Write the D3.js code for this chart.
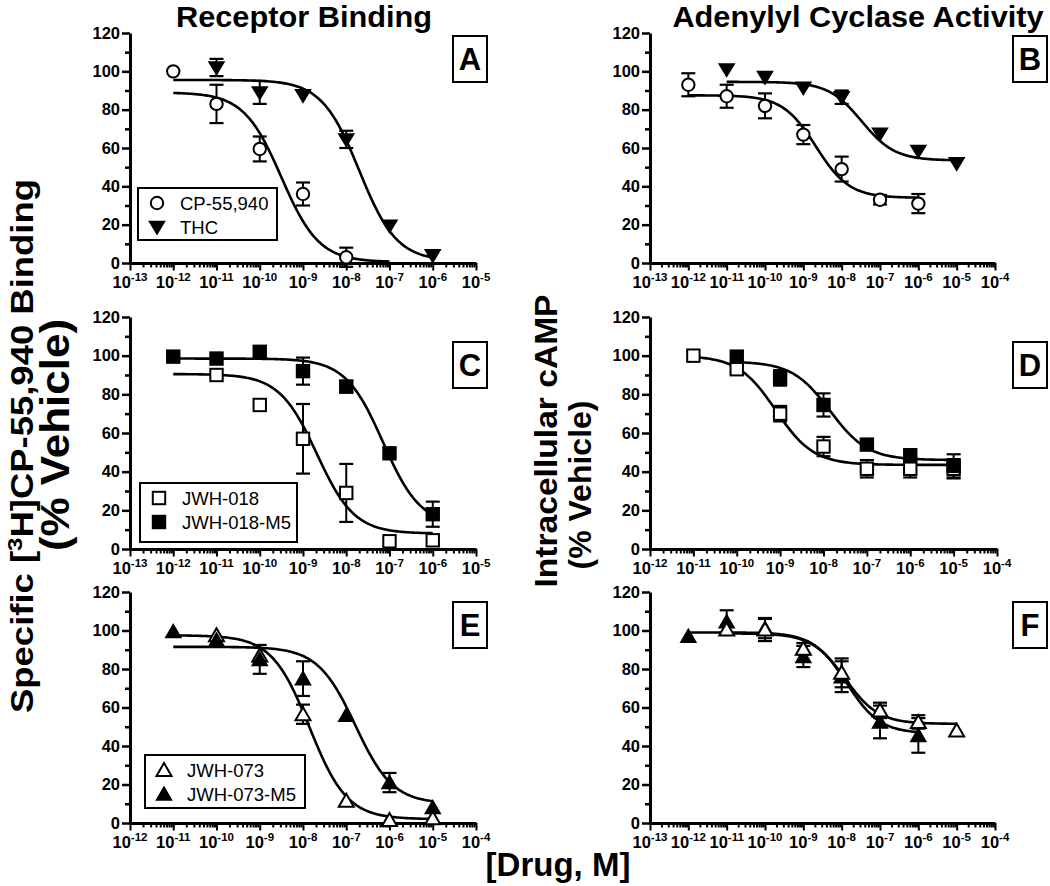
<!DOCTYPE html>
<html><head><meta charset="utf-8">
<script src="https://cdn.jsdelivr.net/npm/d3@7"></script>
<style>
body{margin:0;background:#fff}
svg{display:block}
text{font-family:"Liberation Sans",Arial,Helvetica,sans-serif;fill:#000}
</style>
</head><body>
<svg id="c" width="1050" height="886"></svg>
<script>
// ---------------- DATA ----------------
const titles = ["Receptor Binding", "Adenylyl Cyclase Activity"];
const yLabelLeft = ["Specific [", "3", "H]CP-55,940 Binding"];
const yLabelRight = "Intracellular cAMP";
const yLabelSub = "(% Vehicle)";
const xLabel = "[Drug, M]";
const panelLetters = ["A", "B", "C", "D", "E", "F"];
const yTicks = [0, 20, 40, 60, 80, 100, 120];
// x-axis exponent ranges (log10 M)
const xRangeA = [-13, -5], xRangeB = [-13, -4], xRangeC = [-13, -5];
const xRangeD = [-12, -4], xRangeE = [-12, -4], xRangeF = [-13, -4];

// Panel A
const A_cp_logx = [-12, -11, -10, -9, -8];
const A_cp_y    = [100, 83, 59.5, 36, 3];
const A_cp_err  = [0, 10, 6.5, 6, 5];
const A_thc_logx = [-11, -10, -9, -8, -7, -6];
const A_thc_y    = [102, 89, 87.5, 64.5, 19.5, 4];
const A_thc_err  = [4.5, 6, 0, 4.5, 0, 0];
// fit params: top, bottom, logIC50, hill, curve start, curve end
const A_cp_fit  = [89, 0.5, -9.5, 1, -12, -7];
const A_thc_fit = [95.5, 1, -7.7, 1, -12, -6];

// Panel B
const B_cp_logx = [-12, -11, -10, -9, -8, -7, -6];
const B_cp_y    = [93, 87, 82, 67, 49, 33, 31];
const B_cp_err  = [6, 6, 6.5, 5, 6.5, 2.5, 5];
const B_thc_logx = [-11, -10, -9, -8, -7, -6, -5];
const B_thc_y    = [101, 97, 91.5, 86.5, 67.5, 58.5, 52];
const B_thc_err  = [0, 0, 0, 3.5, 0, 0, 0];
const B_cp_fit  = [87.5, 34, -8.67, 1, -12, -6];
const B_thc_fit = [94.5, 53.5, -7.48, 1, -11, -5];

// Panel C
const C_018_logx = [-11, -10, -9, -8, -7, -6];
const C_018_y    = [90, 74.5, 57, 29, 4, 4.5];
const C_018_err  = [0, 0, 18, 15, 0, 0];
const C_m5_logx = [-12, -11, -10, -9, -8, -7, -6];
const C_m5_y    = [99.5, 98.5, 102, 92, 84, 49.5, 18];
const C_m5_err  = [0, 0, 0, 7, 3, 0, 6.5];
const C_018_fit = [90.5, 8, -8.68, 1, -12, -6];
const C_m5_fit  = [98.5, 12, -7.15, 1, -12, -6];

// Panel D
const D_018_logx = [-11, -10, -9, -8, -7, -6, -5];
const D_018_y    = [100, 93, 70, 53, 41.5, 41.5, 41.5];
const D_018_err  = [0, 2, 4, 5, 4.5, 4.5, 5];
const D_m5_logx = [-10, -9, -8, -7, -6, -5];
const D_m5_y    = [99.5, 88.5, 74.5, 54, 48.5, 43];
const D_m5_err  = [0, 4, 6, 0, 0, 6];
const D_018_fit = [100, 43.5, -9.1, 1, -11, -5];
const D_m5_fit  = [97, 46, -7.85, 1, -10, -5];

// Panel E
const E_073_logx = [-10, -9, -8, -7, -6, -5];
const E_073_y    = [97.5, 87, 56.5, 11.5, 1.5, 2.5];
const E_073_err  = [0, 0, 5, 0, 0, 0];
const E_m5_logx = [-11, -10, -9, -8, -7, -6, -5];
const E_m5_y    = [99.5, 95, 85, 75, 56, 21, 8];
const E_m5_err  = [0, 0, 7.5, 9, 0, 5, 0];
const E_073_fit = [97.5, 2, -7.85, 1, -11, -5];
const E_m5_fit  = [91.5, 10, -6.79, 1, -11, -5];

// Panel F
const F_m5_logx = [-12, -11, -10, -9, -8, -7, -6];
const F_m5_y    = [97, 104.5, 101, 86.5, 76, 52.5, 45.5];
const F_m5_err  = [0, 6, 5, 5.5, 8, 8.5, 9];
const F_073_logx = [-11, -10, -9, -8, -7, -6, -5];
const F_073_y    = [100.5, 100.5, 90.5, 78, 58.5, 52.5, 48];
const F_073_err  = [0, 6, 3, 7.5, 4, 3.5, 0];
const F_m5_fit  = [99, 46.5, -7.87, 1, -12, -6];
const F_073_fit = [98.5, 51.5, -7.91, 1, -11, -5];

const legendA = ["CP-55,940", "THC"];
const legendC = ["JWH-018", "JWH-018-M5"];
const legendE = ["JWH-073", "JWH-073-M5"];

// ---------------- LAYOUT ----------------
const svg = d3.select("#c");
const FONT = "'Liberation Sans',Arial,Helvetica,sans-serif";

function ser(logx, y, err, fit, mk) {
  return {pts: logx.map((lx, i) => ({lx, y: y[i], e: err[i]})), fit, mk};
}

const panels = [
  {L: panelLetters[0], range: xRangeA, x0: 130, x1: 476, top: 33, bot: 263, box: [453, 36],
   series: [ser(A_cp_logx, A_cp_y, A_cp_err, A_cp_fit, "circleOpen"), ser(A_thc_logx, A_thc_y, A_thc_err, A_thc_fit, "triDownFilled")],
   legend: {x: 138, y: 188, w: 139, h: 52, items: legendA, mk: ["circleOpen", "triDownFilled"]}},
  {L: panelLetters[1], range: xRangeB, x0: 650, x1: 995, top: 33, bot: 263, box: [1013, 36],
   series: [ser(B_cp_logx, B_cp_y, B_cp_err, B_cp_fit, "circleOpen"), ser(B_thc_logx, B_thc_y, B_thc_err, B_thc_fit, "triDownFilled")]},
  {L: panelLetters[2], range: xRangeC, x0: 130, x1: 476, top: 317, bot: 549, box: [453, 342],
   series: [ser(C_018_logx, C_018_y, C_018_err, C_018_fit, "squareOpen"), ser(C_m5_logx, C_m5_y, C_m5_err, C_m5_fit, "squareFilled")],
   legend: {x: 140, y: 483, w: 157, h: 59, items: legendC, mk: ["squareOpen", "squareFilled"]}},
  {L: panelLetters[3], range: xRangeD, x0: 650, x1: 997, top: 317, bot: 549, box: [1013, 342],
   series: [ser(D_018_logx, D_018_y, D_018_err, D_018_fit, "squareOpen"), ser(D_m5_logx, D_m5_y, D_m5_err, D_m5_fit, "squareFilled")]},
  {L: panelLetters[4], range: xRangeE, x0: 130, x1: 476, top: 592, bot: 823, box: [453, 602],
   series: [ser(E_073_logx, E_073_y, E_073_err, E_073_fit, "triUpOpen"), ser(E_m5_logx, E_m5_y, E_m5_err, E_m5_fit, "triUpFilled")],
   legend: {x: 145, y: 755, w: 160, h: 53, items: legendE, mk: ["triUpOpen", "triUpFilled"]}},
  {L: panelLetters[5], range: xRangeF, x0: 650, x1: 995, top: 592, bot: 823, box: [1013, 602],
   series: [ser(F_m5_logx, F_m5_y, F_m5_err, F_m5_fit, "triUpFilled"), ser(F_073_logx, F_073_y, F_073_err, F_073_fit, "triUpOpen")]}
];

function drawMarker(g, type, cx, cy) {
  const open = type.endsWith("Open");
  const fill = open ? "#fff" : "#000";
  if (type.startsWith("circle")) {
    g.append("circle").attr("cx", cx).attr("cy", cy).attr("r", 6.2)
      .attr("fill", fill).attr("stroke", "#000").attr("stroke-width", 2);
  } else if (type.startsWith("square")) {
    g.append("rect").attr("x", cx - 6.2).attr("y", cy - 6.2).attr("width", 12.4).attr("height", 12.4)
      .attr("fill", fill).attr("stroke", "#000").attr("stroke-width", 2);
  } else if (type.startsWith("triDown")) {
    g.append("path").attr("d", `M${cx - 7.5},${cy - 5.5}L${cx + 7.5},${cy - 5.5}L${cx},${cy + 7}Z`)
      .attr("fill", fill).attr("stroke", "#000").attr("stroke-width", 1.5).attr("stroke-linejoin", "miter");
  } else {
    g.append("path").attr("d", `M${cx - 7.5},${cy + 6}L${cx + 7.5},${cy + 6}L${cx},${cy - 7}Z`)
      .attr("fill", fill).attr("stroke", "#000").attr("stroke-width", open ? 2 : 1.5).attr("stroke-linejoin", "miter");
  }
}

function fourPL(p, lx) {
  const [top, bottom, lic, hill] = p;
  return bottom + (top - bottom) / (1 + Math.pow(10, (lx - lic) * hill));
}

panels.forEach(P => {
  const g = svg.append("g");
  const x = d3.scaleLog().domain([Math.pow(10, P.range[0]), Math.pow(10, P.range[1])]).range([P.x0, P.x1]);
  const y = d3.scaleLinear().domain([0, 120]).range([P.bot, P.top]);

  const majors = d3.range(P.range[0], P.range[1] + 1).map(e => Math.pow(10, e));
  const minors = [];
  d3.range(P.range[0], P.range[1]).forEach(e => { for (let k = 2; k <= 9; k++) minors.push(k * Math.pow(10, e)); });

  const xMin = g.append("g").attr("transform", `translate(0,${P.bot})`)
    .call(d3.axisBottom(x).tickValues(minors).tickSize(4.5).tickSizeOuter(0).tickFormat(""));
  const xMaj = g.append("g").attr("transform", `translate(0,${P.bot})`)
    .call(d3.axisBottom(x).tickValues(majors).tickSize(7.5).tickSizeOuter(0).tickFormat(""));
  [xMin, xMaj].forEach(a => {
    a.selectAll(".tick line").attr("stroke", "#000").attr("stroke-width", 2);
    a.select(".domain").attr("stroke", "#000").attr("stroke-width", 3);
  });
  xMin.select(".domain").remove();

  d3.range(P.range[0], P.range[1] + 1).forEach(e => {
    const t = g.append("text").attr("x", x(Math.pow(10, e))).attr("y", P.bot + 25)
      .attr("text-anchor", "middle").attr("font-weight", "bold").attr("font-size", 16.5);
    t.append("tspan").text("10");
    t.append("tspan").attr("font-size", 11.5).attr("dy", -7).text(String(e));
  });

  const yMinVals = d3.range(10, 120, 20);
  const yMin = g.append("g").attr("transform", `translate(${P.x0},0)`)
    .call(d3.axisLeft(y).tickValues(yMinVals).tickSize(5).tickSizeOuter(0).tickFormat(""));
  const yMaj = g.append("g").attr("transform", `translate(${P.x0},0)`)
    .call(d3.axisLeft(y).tickValues(yTicks).tickSize(8).tickPadding(2).tickSizeOuter(0).tickFormat(d3.format("d")));
  [yMin, yMaj].forEach(a => {
    a.selectAll(".tick line").attr("stroke", "#000").attr("stroke-width", 2.5);
    a.select(".domain").attr("stroke", "#000").attr("stroke-width", 3);
  });
  yMin.select(".domain").remove();
  yMaj.selectAll(".tick text").attr("font-family", FONT).attr("font-weight", "bold")
    .attr("font-size", 16.5).attr("fill", "#000");

  const line = d3.line().x(d => x(Math.pow(10, d[0]))).y(d => y(d[1]));
  P.series.forEach(s => {
    const f = s.fit;
    const n = 160;
    const pts = d3.range(n + 1).map(i => { const lx = f[4] + (f[5] - f[4]) * i / n; return [lx, fourPL(f, lx)]; });
    g.append("path").attr("d", line(pts)).attr("fill", "none").attr("stroke", "#000").attr("stroke-width", 2.6);
  });

  P.series.forEach(s => {
    s.pts.forEach(p => {
      if (!p.e) return;
      const cx = x(Math.pow(10, p.lx));
      const y1 = y(p.y + p.e), y2 = y(p.y - p.e);
      g.append("line").attr("x1", cx).attr("x2", cx).attr("y1", y1).attr("y2", y2).attr("stroke", "#000").attr("stroke-width", 2);
      [y1, y2].forEach(yy => g.append("line").attr("x1", cx - 7).attr("x2", cx + 7).attr("y1", yy).attr("y2", yy)
        .attr("stroke", "#000").attr("stroke-width", 2.2));
    });
  });

  P.series.forEach(s => {
    s.pts.forEach(p => drawMarker(g, s.mk, x(Math.pow(10, p.lx)), y(p.y)));
  });

  if (P.legend) {
    const Lg = P.legend;
    g.append("rect").attr("x", Lg.x).attr("y", Lg.y).attr("width", Lg.w).attr("height", Lg.h)
      .attr("fill", "#fff").attr("stroke", "#000").attr("stroke-width", 2);
    Lg.items.forEach((name, i) => {
      const cy = Lg.y + 15 + i * 24;
      drawMarker(g, Lg.mk[i], Lg.x + 19, cy);
      g.append("text").attr("x", Lg.x + 42).attr("y", cy + 6.5).attr("font-size", 18.5).text(name);
    });
  }

  g.append("rect").attr("x", P.box[0]).attr("y", P.box[1]).attr("width", 34).attr("height", 46)
    .attr("fill", "#fff").attr("stroke", "#000").attr("stroke-width", 2);
  g.append("text").attr("x", P.box[0] + 17).attr("y", P.box[1] + 34).attr("text-anchor", "middle")
    .attr("font-weight", "bold").attr("font-size", 31).text(P.L);
});

function label(x, y, rot, sx, size) {
  return svg.append("text")
    .attr("transform", `translate(${x},${y})${rot ? " rotate(-90)" : ""} scale(${sx},1)`)
    .attr("text-anchor", "middle").attr("font-weight", "bold").attr("font-size", size);
}

label(304, 26.5, false, 1.06, 29).text(titles[0]);
label(858, 26.5, false, 1.06, 29).text(titles[1]);

const yl = label(33, 446, true, 1.14, 32);
yl.append("tspan").text(yLabelLeft[0]);
yl.append("tspan").attr("font-size", 21).attr("dy", -11).text(yLabelLeft[1]);
yl.append("tspan").attr("dy", 11).text(yLabelLeft[2]);
label(69, 435, true, 1.1, 40).text(yLabelSub);

label(557, 441, true, 1.05, 32).text(yLabelRight);
label(591, 485, true, 1.0, 32).text(yLabelSub);

label(558, 876, false, 1.0, 33).text(xLabel);
</script>
</body></html>
